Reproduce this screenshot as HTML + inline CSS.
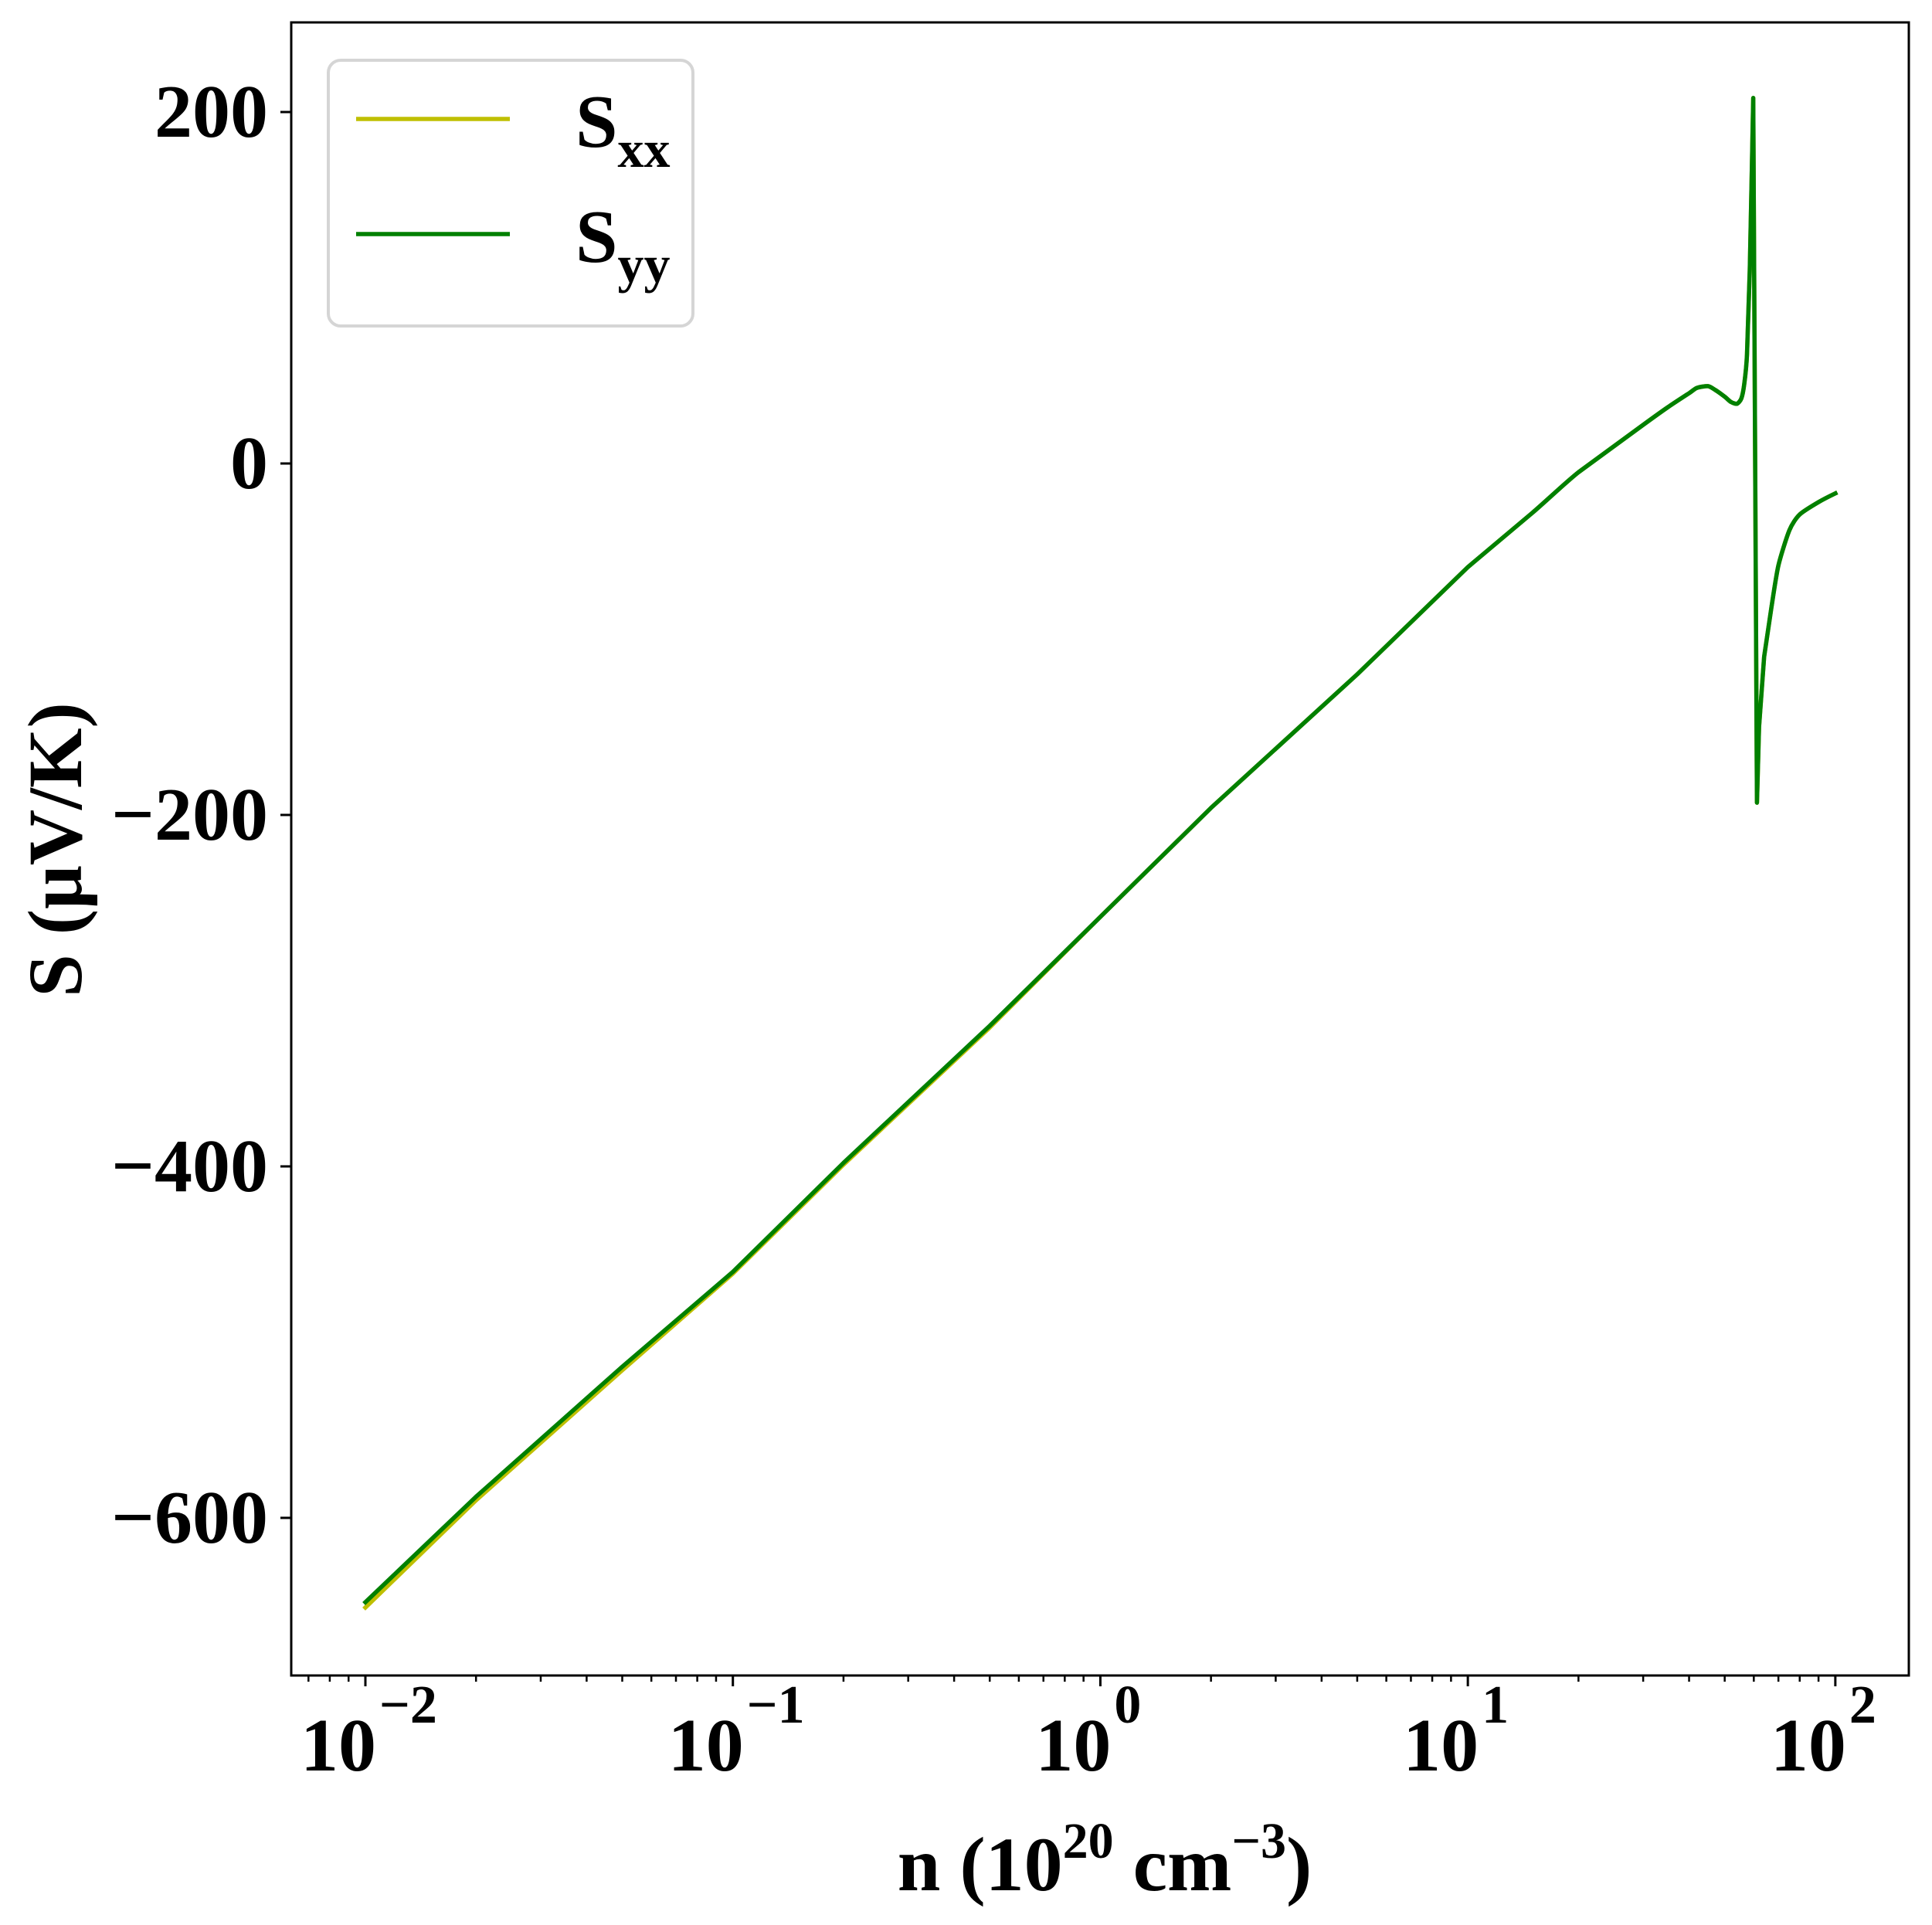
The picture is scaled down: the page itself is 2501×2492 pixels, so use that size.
<!DOCTYPE html>
<html><head><meta charset="utf-8"><style>
html,body{margin:0;padding:0;background:#fff}
svg{display:block}
text{font-family:"Liberation Serif","DejaVu Serif",serif;font-weight:bold;fill:#000}
</style></head><body>
<svg id="chart" width="2501" height="2492" viewBox="0 0 2501 2492" xmlns="http://www.w3.org/2000/svg">
<rect x="0" y="0" width="2501" height="2492" fill="#fff"/>
<g id="plot"></g>
<g id="axes"></g>
<g id="legend">
<rect x="425" y="78" width="472" height="344" rx="16" fill="#fff" stroke="#d5d5d5" stroke-width="4"/>
<line x1="461" y1="154" x2="660" y2="154" stroke="#bfbf00" stroke-width="5.5"/>
<text x="745" y="190" font-size="98">S<tspan font-size="68" dy="26">xx</tspan></text>
<line x1="461" y1="303" x2="660" y2="303" stroke="#008000" stroke-width="5.5"/>
<text x="745" y="339" font-size="98">S<tspan font-size="68" dy="26">yy</tspan></text>
</g>
<text x="1430" y="2447" font-size="100" text-anchor="middle">n (10<tspan font-size="66" dy="-42">20</tspan><tspan dy="42"> cm</tspan><tspan font-size="66" dy="-42">−3</tspan><tspan dy="42">)</tspan></text>
<text x="0" y="0" font-size="100" text-anchor="middle" transform="translate(105,1100) rotate(-90)">S (μV/K)</text>
</svg>
<script>
const nValues = [0.01,0.02,0.05,0.1,0.2,0.5,1,2,5,10,15,20,30,35,40,42,45,47,50,52,54,55.5,56.5,57.5,58.5,59.3,59.8,61.2,62,64,67,70,75,80,90,100];
const syyValues = [-648,-588,-514,-460,-398,-320,-258,-196,-120,-59,-28,-5,22,32,40,43,44,42,38,35,34,37,45,62,110,170,208,-193,-150,-110,-82,-58,-38,-29,-22,-17];
const sxxValues = [-651,-590,-516,-461,-399,-321,-258,-196,-120,-59,-28,-5,22,32,40,43,44,42,38,35,34,37,45,62,110,170,208,-193,-150,-110,-82,-58,-38,-29,-22,-17];
const yTickValues = [200,0,-200,-400,-600];
const yTickLabels = ["200","0","−200","−400","−600"];
const xTickExps = [-2,-1,0,1,2];
const xTickLabels = ["−2","−1","0","1","2"];

const L=377,R=2471,T=29,B=2169;
const xLogMin=-2.2018, xLogMax=2.2;
const yMin=-689.7, yMax=251;
function xs(n){return L+(Math.log10(n)-xLogMin)/(xLogMax-xLogMin)*(R-L);}
function ys(v){return B-(v-yMin)/(yMax-yMin)*(B-T);}
const NS="http://www.w3.org/2000/svg";
const plot=document.getElementById('plot'), axes=document.getElementById('axes');
function mk(tag,attrs,parent){const e=document.createElementNS(NS,tag);for(const k in attrs)e.setAttribute(k,attrs[k]);parent.appendChild(e);return e;}

function series(vals,color){
  const pts=nValues.map((n,i)=>[xs(n),ys(vals[i])]);
  let d='M'+pts[0][0].toFixed(1)+','+pts[0][1].toFixed(1);
  for(let i=0;i<pts.length-1;i++){
    const p0=pts[Math.max(0,i-1)],p1=pts[i],p2=pts[i+1],p3=pts[Math.min(pts.length-1,i+2)];
    const steep=Math.abs(p2[1]-p1[1])>60||Math.abs(p1[1]-p0[1])>150||Math.abs(p3[1]-p2[1])>150;
    if(steep){d+='L'+p2[0].toFixed(1)+','+p2[1].toFixed(1);continue;}
    const t=0.12;
    const c1x=p1[0]+(p2[0]-p0[0])*t,c1y=p1[1]+(p2[1]-p0[1])*t;
    const c2x=p2[0]-(p3[0]-p1[0])*t,c2y=p2[1]-(p3[1]-p1[1])*t;
    d+='C'+c1x.toFixed(1)+','+c1y.toFixed(1)+' '+c2x.toFixed(1)+','+c2y.toFixed(1)+' '+p2[0].toFixed(1)+','+p2[1].toFixed(1);
  }
  return mk('path',{d:d,fill:'none',stroke:color,'stroke-width':5.5,'stroke-linejoin':'round','stroke-linecap':'square'},plot);
}
const p1=series(sxxValues,'#bfbf00');


const p2=series(syyValues,'#008000');



const frame=mk('rect',{x:L,y:T,width:R-L,height:B-T,fill:'none',stroke:'#000','stroke-width':3},axes);



yTickValues.forEach((v,i)=>{
  const y=ys(v);
  const t=mk('line',{x1:L-14,y1:y,x2:L,y2:y,stroke:'#000','stroke-width':3},axes);
  
  
  const lb=mk('text',{x:L-30,y:y+32,'font-size':98,'text-anchor':'end'},axes);
  lb.textContent=yTickLabels[i];
  
  
});

xTickExps.forEach((e,i)=>{
  const x=xs(Math.pow(10,e));
  const t=mk('line',{x1:x,y1:B,x2:x,y2:B+14,stroke:'#000','stroke-width':3},axes);
  
  
  const lb=mk('text',{x:x-84,y:2292,'font-size':98},axes);
  
  
  lb.appendChild(document.createTextNode('10'));
  const sp=document.createElementNS(NS,'tspan');
  sp.setAttribute('font-size','70');sp.setAttribute('dy','-62');sp.setAttribute('dx','4');
  sp.textContent=xTickLabels[i];
  lb.appendChild(sp);
});
for(let e=-3;e<=2;e++){
  for(let k=2;k<=9;k++){
    const n=k*Math.pow(10,e);
    const lg=Math.log10(n);
    if(lg<xLogMin||lg>xLogMax)continue;
    const x=xs(n);
    const t=mk('line',{x1:x,y1:B,x2:x,y2:B+8,stroke:'#000','stroke-width':2.5},axes);
    
    
  }
}
</script>
</body></html>
